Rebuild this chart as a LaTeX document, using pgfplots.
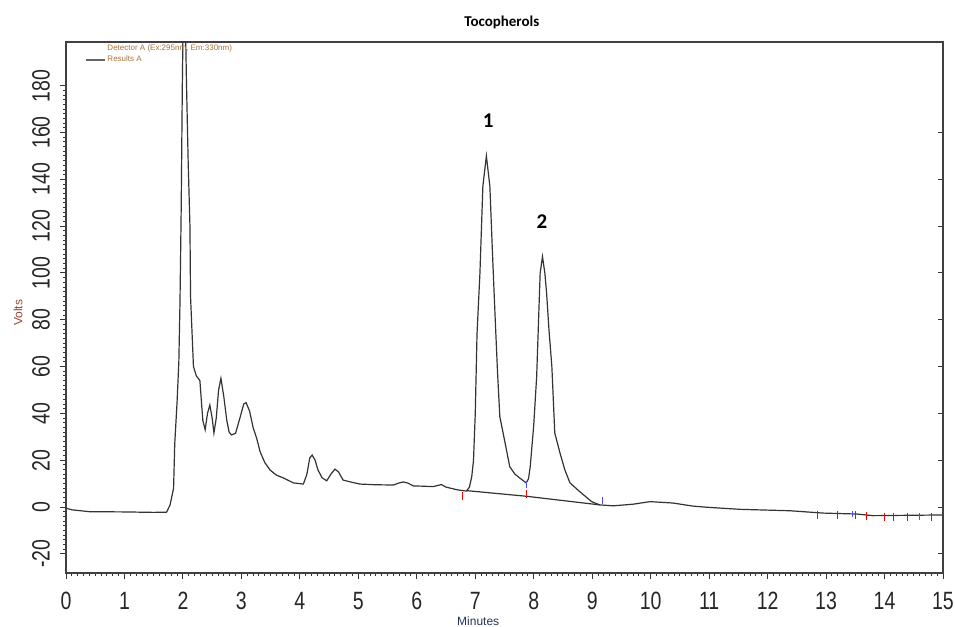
\documentclass[border=0pt]{standalone}
\usepackage{fontspec}
\setmainfont{Liberation Sans}
\newfontfamily\tickfont[FakeStretch=0.78]{Liberation Sans}
\newfontfamily\titlefont{Carlito}
\usepackage{pgfplots}
\pgfplotsset{compat=1.18}
\definecolor{legendc}{RGB}{165,115,60}
\definecolor{voltc}{RGB}{150,70,60}
\definecolor{minc}{RGB}{40,50,90}

\begin{document}
\begin{tikzpicture}
\useasboundingbox (0,0) rectangle (477.5pt,313.5pt);
\begin{axis}[
    at={(33pt,27pt)}, anchor=south west,
    scale only axis, width=438.5pt, height=265.5pt,
    xmin=0, xmax=15, ymin=-28.2, ymax=198.7,
    xtick={0,1,...,15}, ytick={-20,0,20,...,180},
    minor x tick num=9, minor y tick num=9,
    tick align=outside, xtick pos=bottom, ytick pos=left,
    major tick length=3pt, minor tick length=1.6pt,
    every tick/.style={black!80, line width=0.5pt},
    axis line style={black!75, line width=0.6pt},
    ticklabel style={font=\tickfont\fontsize{12.5}{14}\selectfont, text=black!85},
    /pgf/number format/assume math mode=true,
    xticklabel style={yshift=-3pt},
    yticklabel style={rotate=90, anchor=south, yshift=1.5pt},
    xlabel={Minutes},
    xlabel style={at={(axis description cs:0.47,-0.09)}, anchor=center,
        font=\fontsize{6}{7}\selectfont, text=minc},
    ylabel={Volts},
    ylabel style={at={(axis description cs:-0.0547,0.49)}, anchor=center, rotate=0,
        font=\fontsize{6}{7}\selectfont, text=voltc},
    title={\titlefont\bfseries Tocopherols},
    title style={at={(axis description cs:0.497,1.0151)}, anchor=center,
        font=\fontsize{7.5}{9}\selectfont},
    legend style={at={(axis description cs:0.022,0.997)}, anchor=north west,
        draw=none, fill=none, font=\fontsize{4}{4.6}\selectfont, text=legendc,
        inner sep=0pt, row sep=-0.5pt, nodes={inner sep=0.6pt}},
    legend cell align=left,
    legend image code/.code={\draw[#1] (0pt,0pt) -- (9.5pt,0pt);},
]
\addlegendimage{empty legend}
\addlegendentry{Detector A (Ex:295nm, Em:330nm)}
\addlegendimage{black!60, line width=0.8pt}
\addlegendentry{Results A}

% chromatogram trace
\addplot[black!80, line width=0.6pt, forget plot] coordinates {
    (0,-0.5) (0.1,-1.2) (0.4,-2) (1.0,-2.1) (1.5,-2.3) (1.72,-2.2)
    (1.78,0.9) (1.84,8) (1.86,27) (1.90,45) (1.93,62) (1.95,88)
    (1.97,127) (1.99,181) (2.02,240) (2.06,182) (2.09,147) (2.12,120)
    (2.13,90) (2.15,78) (2.18,60) (2.23,56) (2.29,54) (2.34,37)
    (2.38,33) (2.42,40) (2.46,43.6) (2.50,38) (2.53,31.6) (2.57,38)
    (2.61,50) (2.65,55) (2.70,47) (2.75,37) (2.79,32) (2.83,30.8)
    (2.90,31.5) (2.98,38.5) (3.04,44) (3.08,44.6) (3.14,41) (3.20,34)
    (3.26,29.5) (3.32,23.6) (3.40,19) (3.49,15.8) (3.60,13.6) (3.72,12.4)
    (3.89,10.3) (4.06,9.8) (4.12,14) (4.17,21) (4.21,22.2) (4.26,20)
    (4.31,15.8) (4.38,12.5) (4.46,11.2) (4.53,14) (4.60,16.2) (4.66,15)
    (4.74,11.5) (4.90,10.5) (5.03,9.8) (5.30,9.5) (5.60,9.4) (5.70,10.3)
    (5.77,10.7) (5.85,10.2) (5.94,9) (6.10,8.9) (6.28,8.7) (6.42,9.6)
    (6.50,8.5) (6.70,7.3) (6.85,6.8) (6.90,8.5) (6.94,13) (6.97,20)
    (7.00,40) (7.03,74) (7.08,100) (7.13,137) (7.19,150) (7.25,137)
    (7.30,105) (7.34,81) (7.38,58) (7.42,38.6) (7.51,27.4) (7.59,17.2)
    (7.68,14) (7.76,12.4) (7.87,10.3) (7.91,12) (7.94,17.2) (8.00,35)
    (8.05,55.7) (8.11,100) (8.15,107) (8.19,100) (8.22,91.5) (8.26,76)
    (8.31,60) (8.36,31.6) (8.45,23) (8.53,16) (8.62,10.3) (8.79,6.5)
    (8.99,2.3) (9.13,0.9) (9.36,0.5) (9.70,1.2) (9.99,2.3) (10.38,1.7)
    (10.72,0.4) (10.96,-0.1) (11.53,-1) (12.38,-1.6) (12.95,-2.6)
    (13.52,-3) (13.80,-3.7) (15,-3.4)
};
% integration baseline
\addplot[black!80, line width=0.6pt, forget plot] coordinates {
    (6.85,7) (7.87,4.6) (9.13,0.9)
};
% peak start/end markers
\addplot[only marks, mark=|, red, mark size=2pt, line width=0.5pt, forget plot] coordinates {
    (6.78,4.5) (7.88,5.5) (12.85,-3.3) (13.2,-3.3) (13.5,-3.4) (13.7,-3.8)
    (14.0,-4.3) (14.15,-4.3) (14.4,-4.3) (14.8,-4.4)
};
\addplot[only marks, mark=|, blue!70, mark size=1.6pt, line width=0.5pt, forget plot] coordinates {
    (7.88,9.5) (9.18,2.8) (13.45,-2.9) (14.6,-4) (15,-3.5)
};
\node[font=\titlefont\bfseries\fontsize{10.5}{12}\selectfont] at (axis cs:7.22,165) {1};
\node[font=\titlefont\bfseries\fontsize{10.5}{12}\selectfont] at (axis cs:8.14,122) {2};
\end{axis}
% right-hand ticks without labels
\begin{axis}[
    at={(33pt,27pt)}, anchor=south west,
    scale only axis, width=438.5pt, height=265.5pt,
    xmin=0, xmax=15, ymin=-28.2, ymax=198.7,
    axis x line=none, axis y line*=right,
    ytick={-20,0,20,...,160}, yticklabels={},
    tick align=inside, major tick length=2.5pt,
    every tick/.style={black!80, line width=0.5pt},
    axis line style={black!75, line width=0.6pt},
]
\end{axis}
\end{tikzpicture}
\end{document}
